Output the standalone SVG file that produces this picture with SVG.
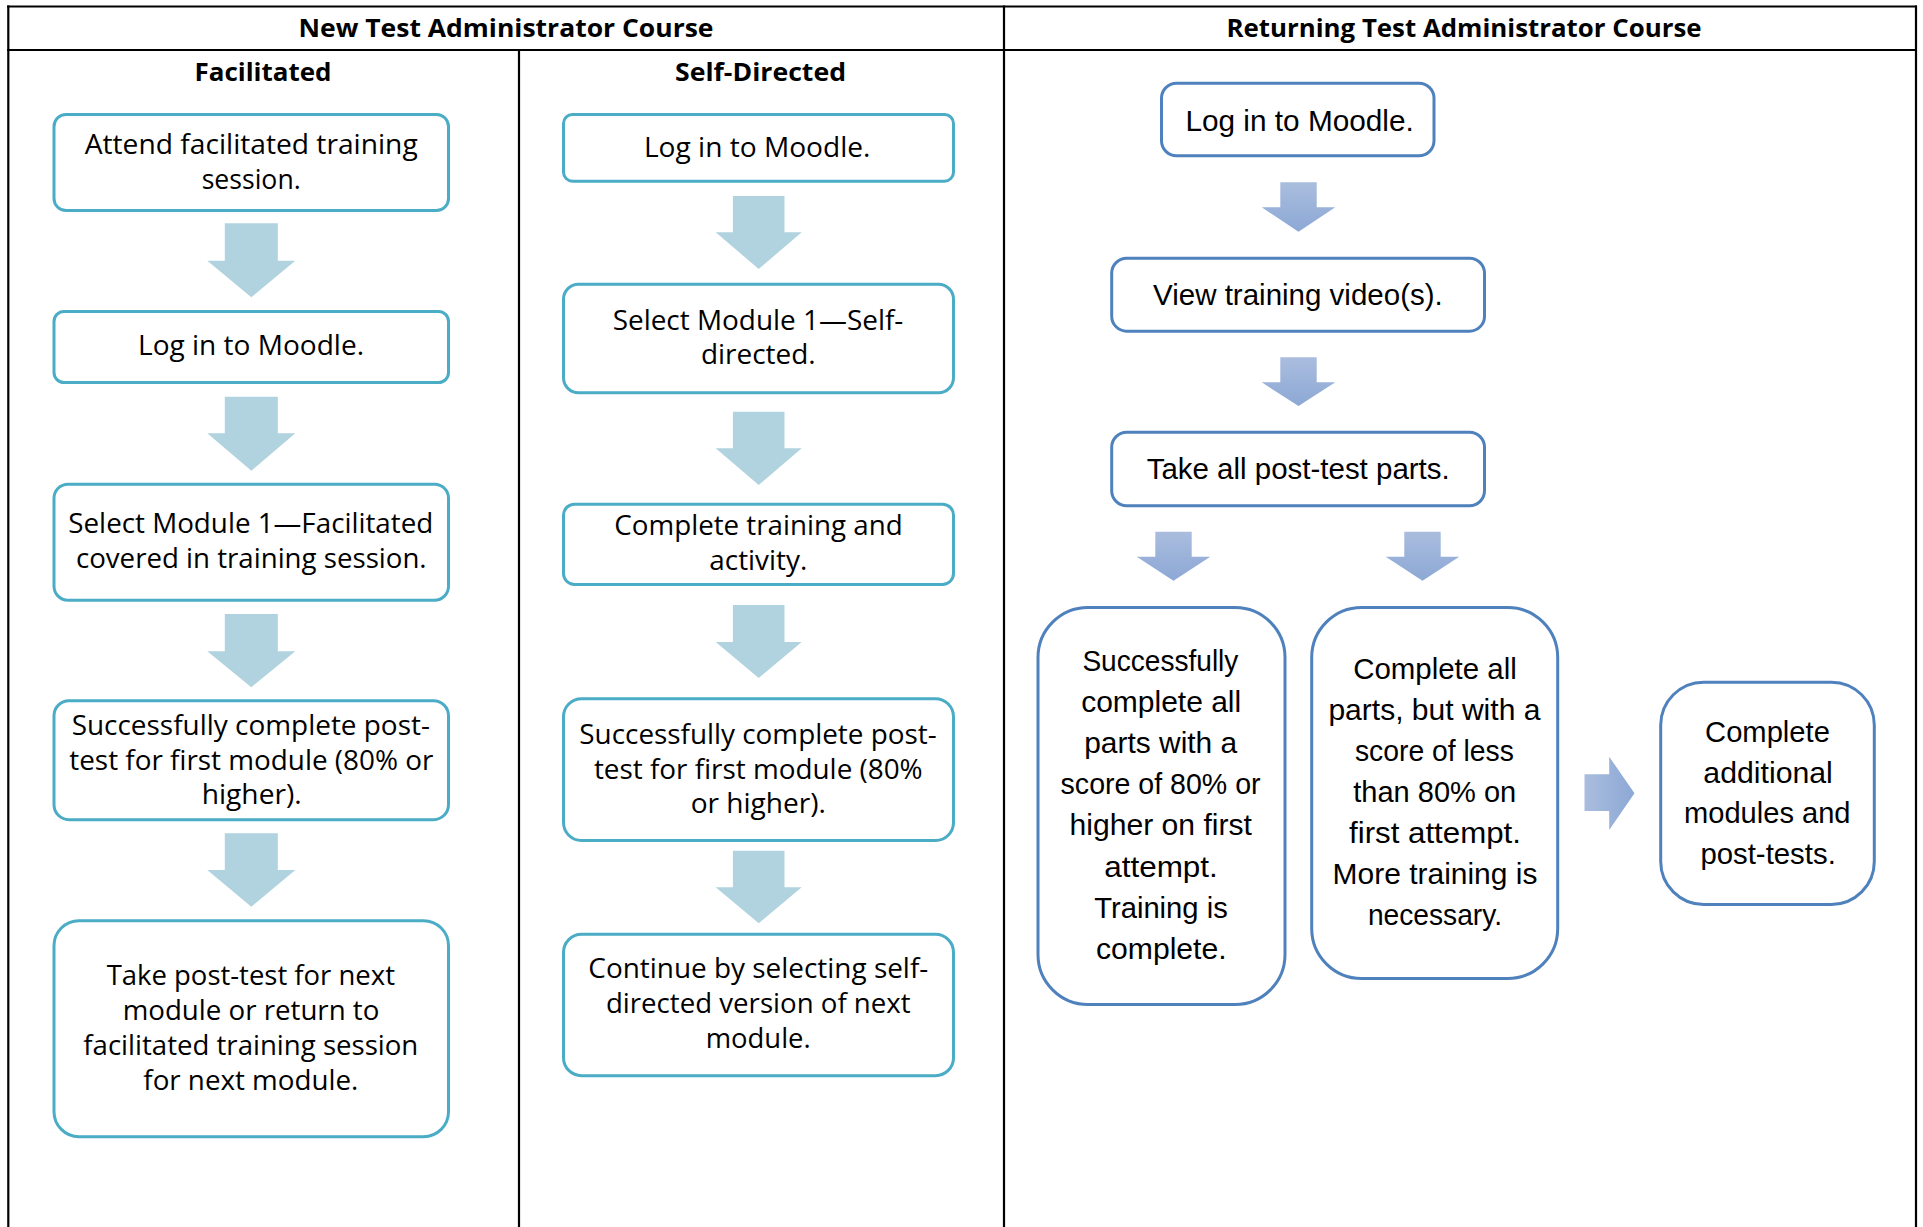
<svg xmlns="http://www.w3.org/2000/svg" width="1923" height="1227" viewBox="0 0 1923 1227">
<style>
.grid{stroke:#000;stroke-width:2.2;fill:none}
.hdr{font-family:'Open Sans','Noto Sans',sans-serif;font-weight:bold;font-size:25px;fill:#000;text-anchor:middle}
.bl{fill:#fff;stroke:#4BACC6;stroke-width:3}
.br{fill:#fff;stroke:#4F81BD;stroke-width:3}
.tl{font-family:'Open Sans','Noto Sans',sans-serif;font-size:28px;fill:#000;text-anchor:middle}
.tr{font-family:'Liberation Sans',Arial,sans-serif;font-size:30px;fill:#000;text-anchor:middle}
.al{fill:#B1D3DF}
.av{fill:url(#gv)}
.ah{fill:url(#gh)}
</style>
<defs>
<linearGradient id="gv" x1="0" y1="0" x2="0" y2="1"><stop offset="0" stop-color="#AABDDE"/><stop offset="1" stop-color="#8CA8D5"/></linearGradient>
<linearGradient id="gh" x1="0" y1="0" x2="1" y2="0"><stop offset="0" stop-color="#AABDDE"/><stop offset="1" stop-color="#8CA8D5"/></linearGradient>
</defs>
<rect width="1923" height="1227" fill="#fff"/>
<g id="table">
<line class="grid" x1="7" y1="6.5" x2="1917" y2="6.5"/>
<line class="grid" x1="7" y1="50" x2="1917" y2="50"/>
<line class="grid" x1="8.3" y1="5.4" x2="8.3" y2="1227"/>
<line class="grid" x1="519" y1="50" x2="519" y2="1227"/>
<line class="grid" x1="1004" y1="5.4" x2="1004" y2="1227"/>
<line class="grid" x1="1916" y1="5.4" x2="1916" y2="1227"/>
<text class="hdr" x="506" y="37" textLength="415" lengthAdjust="spacingAndGlyphs">New Test Administrator Course</text>
<text class="hdr" x="1464" y="37" textLength="475" lengthAdjust="spacingAndGlyphs">Returning Test Administrator Course</text>
<text class="hdr" x="263" y="81" textLength="137" lengthAdjust="spacingAndGlyphs">Facilitated</text>
<text class="hdr" x="760.5" y="81" textLength="171" lengthAdjust="spacingAndGlyphs">Self-Directed</text>
</g>
<g id="connectors">
<polygon class="al" points="224.8,223.3 277.8,223.3 277.8,260.7 295.3,260.7 251.3,297.3 207.3,260.7 224.8,260.7"/>
<polygon class="al" points="224.8,396.7 277.8,396.7 277.8,433.3 295.3,433.3 251.3,470.7 207.3,433.3 224.8,433.3"/>
<polygon class="al" points="224.8,614 277.8,614 277.8,651.2 295.3,651.2 251.3,687.2 207.3,651.2 224.8,651.2"/>
<polygon class="al" points="224.8,833.2 277.8,833.2 277.8,870 295.3,870 251.3,906.8 207.3,870 224.8,870"/>
<polygon class="al" points="732.9,196 784.5,196 784.5,232.3 801.7,232.3 758.7,269 715.7,232.3 732.9,232.3"/>
<polygon class="al" points="732.9,411.7 784.5,411.7 784.5,448.3 801.7,448.3 758.7,485 715.7,448.3 732.9,448.3"/>
<polygon class="al" points="732.9,605 784.5,605 784.5,642 801.7,642 758.7,678 715.7,642 732.9,642"/>
<polygon class="al" points="732.9,850.8 784.5,850.8 784.5,887.2 801.7,887.2 758.7,923.2 715.7,887.2 732.9,887.2"/>
<polygon class="av" points="1280.3,182.3 1316.7,182.3 1316.7,207.3 1335.3,207.3 1298.5,231.7 1261.7,207.3 1280.3,207.3"/>
<polygon class="av" points="1280.3,357.3 1316.7,357.3 1316.7,382.3 1335.3,382.3 1298.5,406 1261.7,382.3 1280.3,382.3"/>
<polygon class="av" points="1155.3,531.7 1191.7,531.7 1191.7,556.7 1210.3,556.7 1173.5,580.7 1136.7,556.7 1155.3,556.7"/>
<polygon class="av" points="1404.3,531.7 1440.7,531.7 1440.7,556.7 1459.3,556.7 1422.5,580.7 1385.7,556.7 1404.3,556.7"/>
<polygon class="ah" points="1584.5,774.3 1609.2,774.3 1609.2,756.7 1634.5,793.3 1609.2,830 1609.2,811 1584.5,811"/>
</g>
<g id="f1">
<rect class="bl" x="54" y="114.5" width="394.5" height="96" rx="12"/>
<text class="tl" x="251.2" y="153.5" textLength="333" lengthAdjust="spacingAndGlyphs">Attend facilitated training</text>
<text class="tl" x="251.2" y="188.5" textLength="99" lengthAdjust="spacingAndGlyphs">session.</text>
</g>
<g id="f2">
<rect class="bl" x="54" y="311.5" width="394.5" height="71" rx="10"/>
<text class="tl" x="251" y="355" textLength="226" lengthAdjust="spacingAndGlyphs">Log in to Moodle.</text>
</g>
<g id="f3">
<rect class="bl" x="54" y="484.2" width="394.5" height="116" rx="14"/>
<text class="tl" x="250.8" y="533.3" textLength="365" lengthAdjust="spacingAndGlyphs">Select Module 1—Facilitated</text>
<text class="tl" x="251.3" y="568.3" textLength="350.7" lengthAdjust="spacingAndGlyphs">covered in training session.</text>
</g>
<g id="f4">
<rect class="bl" x="54" y="700.7" width="394.5" height="119" rx="15"/>
<text class="tl" x="250.8" y="734.5" textLength="358.3" lengthAdjust="spacingAndGlyphs">Successfully complete post-</text>
<text class="tl" x="251.3" y="769.5" textLength="364" lengthAdjust="spacingAndGlyphs">test for first module (80% or</text>
<text class="tl" x="251.7" y="804" textLength="100" lengthAdjust="spacingAndGlyphs">higher).</text>
</g>
<g id="f5">
<rect class="bl" x="54" y="920.7" width="394.5" height="216" rx="25"/>
<text class="tl" x="250.8" y="985" textLength="288.3" lengthAdjust="spacingAndGlyphs">Take post-test for next</text>
<text class="tl" x="251" y="1020" textLength="256.7" lengthAdjust="spacingAndGlyphs">module or return to</text>
<text class="tl" x="250.8" y="1055" textLength="335" lengthAdjust="spacingAndGlyphs">facilitated training session</text>
<text class="tl" x="250.8" y="1090" textLength="215" lengthAdjust="spacingAndGlyphs">for next module.</text>
</g>
<g id="s1">
<rect class="bl" x="563.5" y="114.5" width="390" height="66.7" rx="9"/>
<text class="tl" x="757.2" y="156.7" textLength="226.5" lengthAdjust="spacingAndGlyphs">Log in to Moodle.</text>
</g>
<g id="s2">
<rect class="bl" x="563.5" y="284.2" width="390" height="108.6" rx="15"/>
<text class="tl" x="758" y="330" textLength="290.7" lengthAdjust="spacingAndGlyphs">Select Module 1—Self-</text>
<text class="tl" x="758.3" y="364.3" textLength="114.7" lengthAdjust="spacingAndGlyphs">directed.</text>
</g>
<g id="s3">
<rect class="bl" x="563.5" y="504.2" width="390" height="80.3" rx="11"/>
<text class="tl" x="758.5" y="535" textLength="288.3" lengthAdjust="spacingAndGlyphs">Complete training and</text>
<text class="tl" x="758.3" y="569.5" textLength="98" lengthAdjust="spacingAndGlyphs">activity.</text>
</g>
<g id="s4">
<rect class="bl" x="563.5" y="698.7" width="390" height="141.8" rx="18"/>
<text class="tl" x="758" y="744" textLength="357.3" lengthAdjust="spacingAndGlyphs">Successfully complete post-</text>
<text class="tl" x="758.3" y="778.7" textLength="328.7" lengthAdjust="spacingAndGlyphs">test for first module (80%</text>
<text class="tl" x="758.3" y="813.3" textLength="135.3" lengthAdjust="spacingAndGlyphs">or higher).</text>
</g>
<g id="s5">
<rect class="bl" x="563.5" y="934.3" width="390" height="141.4" rx="18"/>
<text class="tl" x="758.3" y="978" textLength="340" lengthAdjust="spacingAndGlyphs">Continue by selecting self-</text>
<text class="tl" x="758.3" y="1012.8" textLength="304.7" lengthAdjust="spacingAndGlyphs">directed version of next</text>
<text class="tl" x="758.2" y="1048" textLength="105" lengthAdjust="spacingAndGlyphs">module.</text>
</g>
<g id="r1">
<rect class="br" x="1161.5" y="83.2" width="272.5" height="72.6" rx="15"/>
<text class="tr" x="1299.6" y="131" textLength="228.4" lengthAdjust="spacingAndGlyphs">Log in to Moodle.</text>
</g>
<g id="r2">
<rect class="br" x="1111.7" y="258.2" width="372.8" height="73" rx="15"/>
<text class="tr" x="1297.9" y="304.5" textLength="289.7" lengthAdjust="spacingAndGlyphs">View training video(s).</text>
</g>
<g id="r3">
<rect class="br" x="1111.7" y="432.2" width="372.8" height="73.6" rx="15"/>
<text class="tr" x="1298.2" y="478.8" textLength="303" lengthAdjust="spacingAndGlyphs">Take all post-test parts.</text>
</g>
<g id="r4">
<rect class="br" x="1038" y="607.5" width="247" height="397" rx="50"/>
<text class="tr" x="1160.4" y="670.5" textLength="156" lengthAdjust="spacingAndGlyphs">Successfully</text>
<text class="tr" x="1161.2" y="711.7" textLength="160" lengthAdjust="spacingAndGlyphs">complete all</text>
<text class="tr" x="1160.7" y="752.9" textLength="153" lengthAdjust="spacingAndGlyphs">parts with a</text>
<text class="tr" x="1160.6" y="794.1" textLength="200" lengthAdjust="spacingAndGlyphs">score of 80% or</text>
<text class="tr" x="1160.7" y="835.3" textLength="182.5" lengthAdjust="spacingAndGlyphs">higher on first</text>
<text class="tr" x="1161" y="876.5" textLength="113.6" lengthAdjust="spacingAndGlyphs">attempt.</text>
<text class="tr" x="1161" y="917.7" textLength="133.6" lengthAdjust="spacingAndGlyphs">Training is</text>
<text class="tr" x="1161.3" y="958.9" textLength="130.7" lengthAdjust="spacingAndGlyphs">complete.</text>
</g>
<g id="r5">
<rect class="br" x="1311.7" y="607.5" width="246" height="371" rx="50"/>
<text class="tr" x="1435" y="679.3" textLength="163.6" lengthAdjust="spacingAndGlyphs">Complete all</text>
<text class="tr" x="1434.4" y="720.3" textLength="212" lengthAdjust="spacingAndGlyphs">parts, but with a</text>
<text class="tr" x="1434.4" y="761.3" textLength="159" lengthAdjust="spacingAndGlyphs">score of less</text>
<text class="tr" x="1434.7" y="802.3" textLength="163" lengthAdjust="spacingAndGlyphs">than 80% on</text>
<text class="tr" x="1435" y="843.3" textLength="171.9" lengthAdjust="spacingAndGlyphs">first attempt.</text>
<text class="tr" x="1435" y="884.3" textLength="204.8" lengthAdjust="spacingAndGlyphs">More training is</text>
<text class="tr" x="1435" y="925.3" textLength="134.2" lengthAdjust="spacingAndGlyphs">necessary.</text>
</g>
<g id="r6">
<rect class="br" x="1660.7" y="682.2" width="213.6" height="222.3" rx="43"/>
<text class="tr" x="1767.5" y="742.3" textLength="124.8" lengthAdjust="spacingAndGlyphs">Complete</text>
<text class="tr" x="1768.1" y="782.7" textLength="129.5" lengthAdjust="spacingAndGlyphs">additional</text>
<text class="tr" x="1767.3" y="823.1" textLength="166.5" lengthAdjust="spacingAndGlyphs">modules and</text>
<text class="tr" x="1768.1" y="863.5" textLength="135.4" lengthAdjust="spacingAndGlyphs">post-tests.</text>
</g>
</svg>
